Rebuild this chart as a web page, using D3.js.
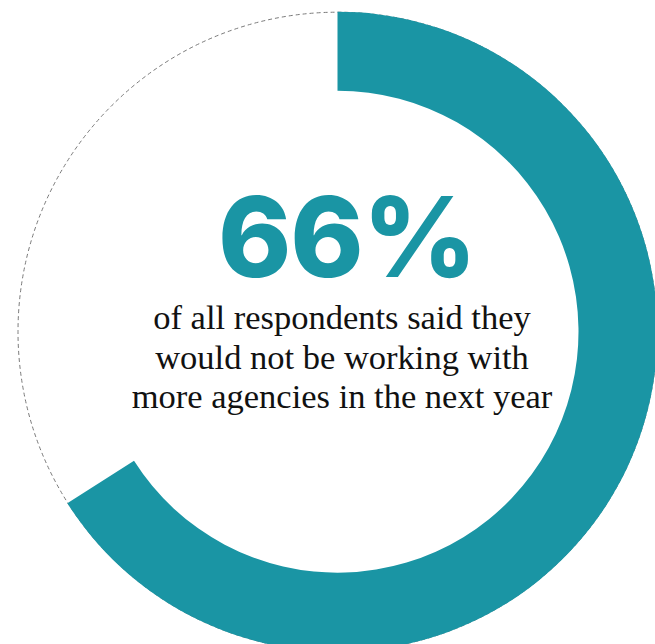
<!DOCTYPE html>
<html>
<head>
<meta charset="utf-8">
<script src="https://cdn.jsdelivr.net/npm/d3@7"></script>
<style>
  html, body { margin: 0; padding: 0; background: #fff; overflow: hidden; }
  svg { display: block; }
</style>
</head>
<body>
<svg id="chart" width="655" height="644"></svg>
<script>
// Share of respondents (percent) shown in the ring
const shareLabel = ["Not working with more agencies"];
const shareValue = [66];
const headline = ["66%"];
const captionLines = [
  "of all respondents said they",
  "would not be working with",
  "more agencies in the next year"
];

const width = 655, height = 644;
const cx = 337.5, cy = 331.7;
const outerR = 320, innerR = 241;
const teal = "#1a95a4";

const svg = d3.select("#chart");
const g = svg.append("g").attr("transform", `translate(${cx},${cy})`);

// Full-circle guide, dashed
g.append("circle")
  .attr("r", outerR - 0.5)
  .attr("fill", "none")
  .attr("stroke", "#7a7a7a")
  .attr("stroke-width", 1)
  .attr("stroke-dasharray", "4,3");

// Angle scale: percent -> radians, clockwise from 12 o'clock
const angle = d3.scaleLinear().domain([0, 100]).range([0, 2 * Math.PI]);
const arc = d3.arc().innerRadius(innerR).outerRadius(outerR);

g.selectAll("path.share")
  .data(shareValue.map((v, i) => ({ label: shareLabel[i], value: v })))
  .join("path")
  .attr("class", "share")
  .attr("fill", teal)
  .attr("d", d => arc({ startAngle: angle(0), endAngle: angle(d.value) }));

// Headline figure
svg.append("text")
  .attr("x", 347)
  .attr("y", 277)
  .attr("text-anchor", "middle")
  .attr("fill", teal)
  .attr("font-family", "Inter, Lato, sans-serif")
  .attr("font-weight", 800)
  .attr("font-size", 111)
  .attr("letter-spacing", -1)
  .text(headline[0]);

// Caption
const caption = svg.append("text")
  .attr("text-anchor", "middle")
  .attr("fill", "#111")
  .attr("font-family", "'Liberation Serif', 'DejaVu Serif', serif")
  .attr("font-size", 34.5);

caption.selectAll("tspan")
  .data(captionLines)
  .join("tspan")
  .attr("x", 342)
  .attr("y", (d, i) => 329 + i * 39.5)
  .text(d => d);
</script>
</body>
</html>
